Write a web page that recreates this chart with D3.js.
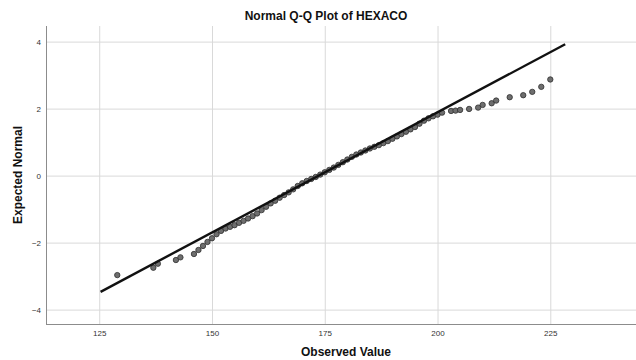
<!DOCTYPE html>
<html lang="en">
<head>
    <meta charset="UTF-8" />
    <title>Normal Q-Q Plot of HEXACO</title>
    <script src="https://d3js.org/d3.v7.min.js"></script>
    <style>
        body { margin: 0; background: #fff; }
        svg { display: block; font-family: "Liberation Sans", Arial, sans-serif; }
        .grid line { stroke: #d9d9d9; stroke-width: 1px; }
        .tick text { fill: #333; font-size: 8px; }
        .title { font-size: 12px; font-weight: bold; fill: #111; }
        .point { fill: #6e6e6e; stroke: #2e2e2e; stroke-width: 0.8px; }
        .fit { stroke: #111; stroke-width: 2.4px; fill: none; }
    </style>
</head>
<body>
    <script>
        const observed = [
            129, 137, 138, 142, 143, 146, 147, 148, 149, 150,
            151, 152, 153, 154, 155, 156, 157, 158, 159, 160,
            161, 162, 163, 164, 165, 166, 167, 168, 169, 170,
            171, 172, 173, 174, 175, 176, 177, 178, 179, 180,
            181, 182, 183, 184, 185, 186, 187, 188, 189, 190,
            191, 192, 193, 194, 195, 196, 197, 198, 199, 200,
            201, 203, 204, 205, 207, 209, 210, 212, 213, 216,
            219, 221, 223, 225
        ];
        const expected = [
            -2.97, -2.75, -2.63, -2.52, -2.44, -2.34, -2.22, -2.10, -1.98, -1.87,
            -1.75, -1.65, -1.58, -1.53, -1.48, -1.41, -1.35, -1.28, -1.21, -1.13,
            -1.03, -0.93, -0.83, -0.75, -0.66, -0.58, -0.50, -0.41, -0.31, -0.23,
            -0.16, -0.10, -0.04, 0.03, 0.10, 0.17, 0.24, 0.32, 0.40, 0.48,
            0.56, 0.63, 0.69, 0.75, 0.81, 0.86, 0.91, 0.97, 1.03, 1.10,
            1.17, 1.24, 1.31, 1.38, 1.45, 1.55, 1.64, 1.71, 1.77, 1.82,
            1.88, 1.93, 1.94, 1.96, 1.99, 2.03, 2.11, 2.16, 2.24, 2.34,
            2.40, 2.50, 2.65, 2.87
        ];
        // reference line end points
        const lineX = [125.3, 228.3];
        const lineY = [-3.47, 3.92];

        const xTicks = [125, 150, 175, 200, 225];
        const yTicks = [-4, -2, 0, 2, 4];

        const width = 636, height = 360;
        const plot = { left: 46, right: 636, top: 26, bottom: 324 };

        const x = d3.scaleLinear().domain([113.2, 244]).range([plot.left, plot.right]);
        const y = d3.scaleLinear().domain([-4.43, 4.466]).range([plot.bottom, plot.top]);

        const svg = d3.select("body").append("svg")
            .attr("width", width)
            .attr("height", height);

        // grid lines
        svg.append("g").attr("class", "grid")
            .selectAll("line").data(yTicks).enter().append("line")
            .attr("x1", plot.left).attr("x2", plot.right)
            .attr("y1", d => y(d) + 0.5).attr("y2", d => y(d) + 0.5);
        svg.append("g").attr("class", "grid")
            .selectAll("line").data(xTicks).enter().append("line")
            .attr("y1", plot.top).attr("y2", plot.bottom)
            .attr("x1", d => x(d) + 0.5).attr("x2", d => x(d) + 0.5);

        // axes
        const yAxis = svg.append("g")
            .attr("transform", `translate(${plot.left},0)`)
            .call(d3.axisLeft(y).tickValues(yTicks).tickSize(0).tickPadding(5));
        yAxis.select(".domain").remove();

        const xAxis = svg.append("g")
            .attr("transform", `translate(0,${plot.bottom})`)
            .call(d3.axisBottom(x).tickValues(xTicks).tickSize(0).tickPadding(6));
        xAxis.select(".domain").remove();

        svg.append("line")
            .attr("x1", plot.left + 0.5).attr("x2", plot.left + 0.5)
            .attr("y1", plot.top).attr("y2", plot.bottom + 0.5)
            .attr("stroke", "#8c8c8c");
        svg.append("line")
            .attr("x1", plot.left).attr("x2", plot.right)
            .attr("y1", plot.bottom + 0.5).attr("y2", plot.bottom + 0.5)
            .attr("stroke", "#8c8c8c");

        // points
        svg.append("g").selectAll("circle")
            .data(observed.map((v, i) => ({ x: v, y: expected[i] })))
            .enter().append("circle")
            .attr("class", "point")
            .attr("cx", d => x(d.x))
            .attr("cy", d => y(d.y))
            .attr("r", 2.7);

        // reference line
        svg.append("line")
            .attr("class", "fit")
            .attr("x1", x(lineX[0])).attr("y1", y(lineY[0]))
            .attr("x2", x(lineX[1])).attr("y2", y(lineY[1]));

        // titles
        svg.append("text").attr("class", "title")
            .attr("x", 326).attr("y", 20)
            .attr("text-anchor", "middle")
            .text("Normal Q-Q Plot of HEXACO");
        svg.append("text").attr("class", "title")
            .attr("x", 346).attr("y", 356)
            .attr("text-anchor", "middle")
            .text("Observed Value");
        svg.append("text").attr("class", "title")
            .attr("transform", `translate(22,${(plot.top + plot.bottom) / 2}) rotate(-90)`)
            .attr("text-anchor", "middle")
            .text("Expected Normal");
    </script>
</body>
</html>
